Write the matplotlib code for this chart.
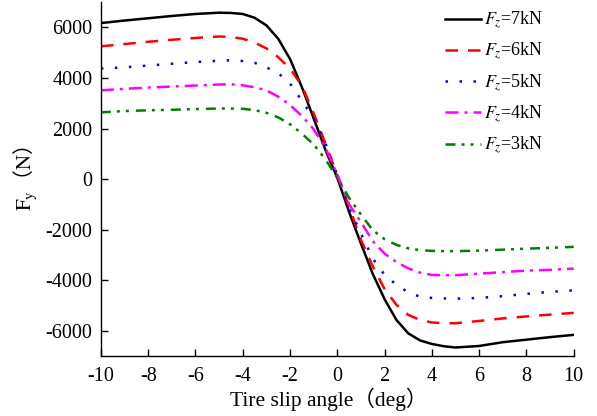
import matplotlib
matplotlib.use("Agg")
import matplotlib.pyplot as plt

plt.rcParams['mathtext.fontset'] = 'stix'
plt.rcParams['axes.unicode_minus'] = False
plt.rcParams['font.family'] = ['Liberation Serif', 'Noto Sans CJK SC']

slip = [-10, -9, -8, -7, -6, -5, -4.5, -4, -3.5, -3, -2.5, -2, -1.5, -1, -0.5,
        0, 0.5, 1, 1.5, 2, 2.5, 3, 3.5, 4, 4.5, 5, 6, 7, 8, 9, 10]

fy_7kN = [6170, 6270, 6360, 6450, 6530, 6580, 6570, 6530, 6380, 6080, 5550, 4750, 3640, 2400, 1150,
          50, -1300, -2550, -3750, -4750, -5570, -6100, -6380, -6520, -6610, -6660, -6600, -6450, -6350, -6250, -6160]
fy_6kN = [5250, 5340, 5430, 5510, 5580, 5640, 5620, 5550, 5400, 5170, 4820, 4370, 3700, 2600, 1400,
          150, -1100, -2400, -3450, -4350, -4970, -5370, -5570, -5670, -5700, -5700, -5610, -5510, -5430, -5360, -5290]
fy_5kN = [4370, 4420, 4490, 4560, 4630, 4680, 4700, 4670, 4600, 4420, 4190, 3780, 3100, 2410, 1420,
          150, -1150, -2150, -3140, -3790, -4180, -4480, -4650, -4700, -4720, -4730, -4700, -4630, -4540, -4460, -4400]
fy_4kN = [3510, 3570, 3620, 3660, 3700, 3740, 3750, 3710, 3630, 3510, 3260, 2930, 2500, 1970, 1230,
          180, -1000, -1700, -2450, -2950, -3280, -3530, -3700, -3790, -3800, -3800, -3740, -3680, -3620, -3590, -3540]
fy_3kN = [2640, 2690, 2720, 2740, 2770, 2790, 2790, 2780, 2730, 2620, 2440, 2170, 1800, 1370, 780,
          50, -750, -1400, -2020, -2380, -2600, -2740, -2810, -2840, -2850, -2850, -2830, -2790, -2750, -2720, -2680]

labels = ['$F_z$=7kN', '$F_z$=6kN', '$F_z$=5kN', '$F_z$=4kN', '$F_z$=3kN']
series = [fy_7kN, fy_6kN, fy_5kN, fy_4kN, fy_3kN]
colors = ['black', 'red', 'blue', 'magenta', 'green']
styles = ['-', (0, (5, 4)), (0, (1, 4.6)), (0, (5.2, 2.4, 1.2, 2.4)),
          (0, (4, 2.4, 1.2, 2.4, 1.2, 2.8))]

xticks = [-10, -8, -6, -4, -2, 0, 2, 4, 6, 8, 10]
yticks = [-6000, -4000, -2000, 0, 2000, 4000, 6000]

fig = plt.figure(figsize=(5.97, 4.16), dpi=100)
ax = fig.add_axes([0.169, 0.144, 0.792, 0.851])

for ys, c, ls, lab in zip(series, colors, styles, labels):
    ax.plot(slip, ys, color=c, linestyle=ls, linewidth=1.8, label=lab)

ax.set_xlim(-10, 10)
ax.set_ylim(-7000, 7000)
ax.set_xticks(xticks)
ax.set_yticks(yticks)
ax.tick_params(direction='in', length=5, width=1, labelsize=14.5)
ax.tick_params(axis='x', pad=7.5)
ax.tick_params(axis='y', pad=6)
for s in ['top', 'right']:
    ax.spines[s].set_visible(False)
for s in ['left', 'bottom']:
    ax.spines[s].set_linewidth(1.0)

ax.set_xlabel('Tire slip angle（deg）', fontsize=15.5, labelpad=2)
ax.xaxis.set_label_coords(0.482, -0.09, transform=ax.transAxes)
ax.set_ylabel(r'$\mathrm{F_y}$（$\mathrm{N}$）', fontsize=15, family='Noto Sans CJK SC', labelpad=5)

leg = ax.legend(loc='upper right', frameon=False, fontsize=13, handlelength=2.0,
                handletextpad=0.2, labelspacing=0.55, bbox_to_anchor=(0.971, 1.024))

fig.savefig('out.png', dpi=100)
